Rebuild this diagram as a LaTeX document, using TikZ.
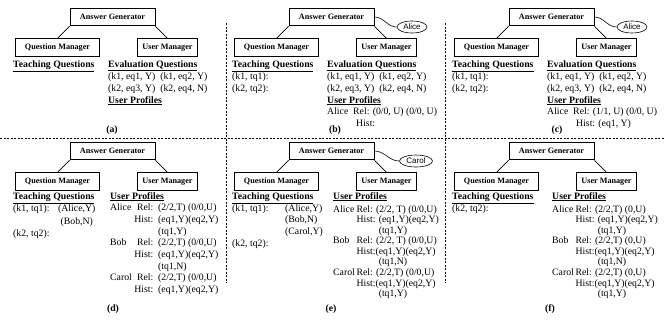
\documentclass[tikz,border=0pt]{standalone}
\usepackage{fontspec}
\setmainfont{Liberation Serif}
\newfontfamily\userfont{Liberation Sans}
\usetikzlibrary{shapes.geometric}

\newcommand{\evallist}{\underline{\textbf{Evaluation Questions}}\\
  (k1, eq1, Y)\ \ (k1, eq2, Y)\\
  (k2, eq3, Y)\ \ (k2, eq4, N)\\
  \underline{\textbf{User Profiles}}}

\begin{document}
\begin{tikzpicture}[x=1bp, y=-1bp,
  mgr/.style={draw, line width=0.8bp, font=\fontsize{8.2}{10}\selectfont\bfseries,
    minimum height=17.5bp, inner sep=0pt},
  user/.style={draw, ellipse, line width=0.6bp, font=\fontsize{8}{9}\userfont,
    minimum height=12bp, inner sep=0pt},
  blk/.style={anchor=north west, inner sep=0pt, font=\fontsize{9.8}{#1}\selectfont},
  tag/.style={anchor=base, inner sep=0pt, font=\fontsize{9.8}{12}\selectfont\bfseries},
  sep/.style={line width=0.7bp, dash pattern=on 2bp off 1.5bp},
  edge from parent/.style={draw, line width=0.7bp}]
\useasboundingbox (0,0) rectangle (664,322);

% generator and managers, one tree per panel
\foreach \p/\dx/\dy in {a/0/0, b/219/0, c/439/0, d/0/134, e/219/134, f/439/134} {
  \begin{scope}[shift={(\dx,\dy)}, level distance=30.5bp, sibling distance=110bp]
  \node[mgr, minimum width=85bp] (gen\p) at (112.5,17) {Answer Generator}
    child[edge from parent path={(\tikzparentnode.south west) -- (\tikzchildnode.north)}] {
      node[mgr, minimum width=84bp] (qm\p) {Question Manager}
    }
    child[edge from parent path={(\tikzparentnode.south east) -- (\tikzchildnode.north)}] {
      node[mgr, minimum width=60bp] (um\p) {User Manager}
    };
  \end{scope}
}

% users talking to the generator
\node[user, minimum width=30bp] (aliceb) at (412,27) {Alice};
\node[user, minimum width=30bp] (alicec) at (632,27) {Alice};
\node[user, minimum width=33bp] (carole) at (416,161) {Carol};
\draw[line width=0.6bp] (genb.east) to[out=0, in=180] (aliceb.west);
\draw[line width=0.6bp] (genc.east) to[out=0, in=180] (alicec.west);
\draw[line width=0.6bp] (gene.east) to[out=0, in=180] (carole.west);

% panel separators
\coordinate (west) at (0,138);
\coordinate (east) at (664,138);
\coordinate (topl) at (226,23);
\coordinate (botl) at (226,283);
\coordinate (topr) at (445,23);
\coordinate (botr) at (445,283);
\draw[sep] (west) -- (east);
\draw[sep] (topl) -- (botl);
\draw[sep] (topr) -- (botr);

% (a)
\node[blk=12] (teacha) at (13,58.6) {\begin{tabular}{@{}l@{}}
  \underline{\textbf{Teaching Questions}}\end{tabular}};
\node[blk=12] (evala) at (108,58.6) {\begin{tabular}{@{}l@{}}\evallist\end{tabular}};
\node[tag] (taga) at (112,132) {(a)};

% (b)
\node[blk=12] (teachb) at (232,58.6) {\begin{tabular}{@{}l@{}}
  \underline{\textbf{Teaching Questions}}\\ (k1, tq1):\\ (k2, tq2):\end{tabular}};
\node[blk=12] (evalb) at (327,58.6) {\begin{tabular}{@{}l@{}}\evallist\\
  Alice\ \ Rel: (0/0, U) (0/0, U)\\ \hspace*{29bp}Hist:\end{tabular}};
\node[tag] (tagb) at (335,132) {(b)};

% (c)
\node[blk=12] (teachc) at (452,58.6) {\begin{tabular}{@{}l@{}}
  \underline{\textbf{Teaching Questions}}\\ (k1, tq1):\\ (k2, tq2):\end{tabular}};
\node[blk=12] (evalc) at (547,58.6) {\begin{tabular}{@{}l@{}}\evallist\\
  Alice\ \ Rel: (1/1, U) (0/0, U)\\ \hspace*{29bp}Hist: (eq1, Y)\end{tabular}};
\node[tag] (tagc) at (557,132) {(c)};

% (d)
\node[blk=12.3] (teachd) at (13,190.4) {\begin{tabular}{@{}l@{}}
  \underline{\textbf{Teaching Questions}}\\
  \makebox[45bp][l]{(k1, tq1):}(Alice,Y)\\
  \hspace*{47.5bp}(Bob,N)\\
  (k2, tq2):\end{tabular}};
\node[blk=11.7] (userd) at (110,190.8) {\begin{tabular}{@{}l@{\ }r@{\ \ }l@{}}
  \multicolumn{3}{@{}l@{}}{\underline{\textbf{User Profiles}}}\\
  Alice & Rel: & (2/2,T) (0/0,U)\\
   & Hist: & (eq1,Y)(eq2,Y)\\
   & & (tq1,Y)\\
  Bob & Rel: & (2/2,T) (0/0,U)\\
   & Hist: & (eq1,Y)(eq2,Y)\\
   & & (tq1,N)\\
  Carol & Rel: & (2/2,T) (0/0,U)\\
   & Hist: & (eq1,Y)(eq2,Y)\end{tabular}};
\node[tag] (tagd) at (113,311) {(d)};

% (e)
\node[blk=11.6] (teache) at (232,190.9) {\begin{tabular}{@{}l@{}}
  \underline{\textbf{Teaching Questions}}\\
  \makebox[53bp][l]{(k1, tq1):}(Alice,Y)\\
  \hspace*{53bp}(Bob,N)\\
  \hspace*{53bp}(Carol,Y)\\
  (k2, tq2):\end{tabular}};
\node[blk=10.6] (usere) at (333,191.6) {\begin{tabular}{@{}l@{\,}l@{}}
  \multicolumn{2}{@{}l@{}}{\underline{\textbf{User Profiles}}}\\[2.4bp]
  Alice & Rel: (2/2, T) (0/0,U)\\
   & Hist: (eq1,Y)(eq2,Y)\\
   & \phantom{Hist: }(tq1,Y)\\
  Bob & Rel: (2/2, T) (0/0,U)\\
   & Hist:(eq1,Y)(eq2,Y)\\
   & \phantom{Hist: }(tq1,N)\\
  Carol & Rel: (2/2,T) (0/0,U)\\
   & Hist:(eq1,Y)(eq2,Y)\\
   & \phantom{Hist: }(tq1,Y)\end{tabular}};
\node[tag] (tage) at (331,311) {(e)};

% (f)
\node[blk=11.6] (teachf) at (452,190.9) {\begin{tabular}{@{}l@{}}
  \underline{\textbf{Teaching Questions}}\\
  (k2, tq2):\end{tabular}};
\node[blk=10.6] (userf) at (552,191.6) {\begin{tabular}{@{}l@{\,}l@{}}
  \multicolumn{2}{@{}l@{}}{\underline{\textbf{User Profiles}}}\\[2.4bp]
  Alice & Rel: (2/2,T) (0,U)\\
   & Hist: (eq1,Y)(eq2,Y)\\
   & \phantom{Hist: }(tq1,Y)\\
  Bob & Rel: (2/2,T) (0,U)\\
   & Hist:(eq1,Y)(eq2,Y)\\
   & \phantom{Hist: }(tq1,N)\\
  Carol & Rel: (2/2,T) (0,U)\\
   & Hist:(eq1,Y)(eq2,Y)\\
   & \phantom{Hist: }(tq1,Y)\end{tabular}};
\node[tag] (tagf) at (550,311) {(f)};
\end{tikzpicture}
\end{document}
